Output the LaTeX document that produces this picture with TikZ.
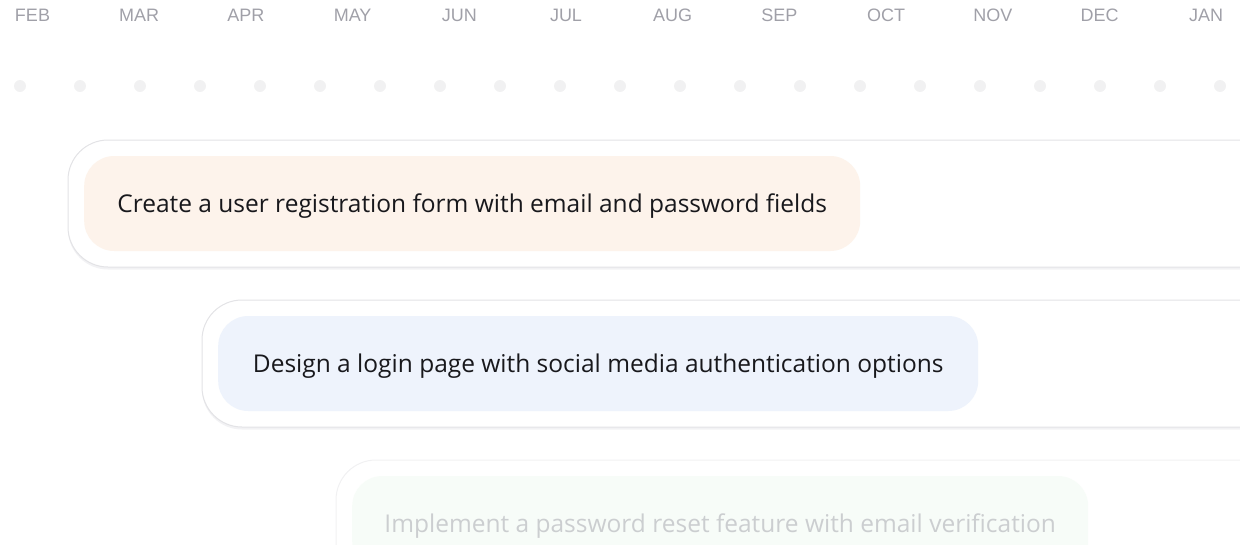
\documentclass[tikz,border=0pt]{standalone}
\usepackage{fontspec}
\setmainfont{Open Sans}
\newfontfamily\monthfont{Liberation Sans}
\definecolor{monthgray}{HTML}{A0A0A8}
\definecolor{dotgray}{HTML}{F1F1F2}
\definecolor{cardline}{HTML}{E3E3E6}
\definecolor{cardshade}{HTML}{F2F2F4}
\definecolor{inktext}{HTML}{18181C}
\definecolor{peach}{HTML}{FDF3EB}
\definecolor{skyblue}{HTML}{EEF3FC}
\definecolor{mint}{HTML}{F0FAF2}
\begin{document}
\begin{tikzpicture}[x=1pt, y=-1pt,
    month/.style={font=\monthfont\fontsize{18}{20}\selectfont, text=monthgray, inner sep=0pt},
    dot/.style={circle, fill=dotgray, inner sep=0pt, minimum size=12pt},
    card/.style={draw=cardline, line width=1pt, fill=white, rounded corners=40pt},
    pill/.style={rounded corners=30pt, minimum height=95pt, inner sep=0pt, text depth=0pt,
        font=\fontsize{24.5}{28}\selectfont, text=inktext, anchor=west}]

    \useasboundingbox (0,0) rectangle (1240,544);

    % months along the top
    \foreach \m [count=\i from 0] in {FEB,MAR,APR,MAY,JUN,JUL,AUG,SEP,OCT,NOV,DEC,JAN}
        \node[month] (m\i) at (32.5+106.7*\i,15) {\m};

    \foreach \i in {0,...,20}
        \node[dot] (d\i) at (20+60*\i,86) {};

    % first task
    \fill[cardshade, rounded corners=40pt] (68,142) rectangle (1300,269.5);
    \draw[card] (68,140) rectangle (1300,267);
    \node[pill, fill=peach, minimum width=776pt] (t1) at (84,203.5)
        {Create a user registration form with email and password fields};

    % second task
    \fill[cardshade, rounded corners=40pt] (202,302) rectangle (1300,429.5);
    \draw[card] (202,300) rectangle (1300,427);
    \node[pill, fill=skyblue, minimum width=760pt] (t2) at (218,363.5)
        {Design a login page with social media authentication options};

    % third task, faded out
    \begin{scope}[opacity=0.5]
        \draw[card] (336,460) rectangle (1300,587);
        \node[pill, fill=mint, minimum width=736pt, text=monthgray] (t3) at (352,523.5)
            {Implement a password reset feature with email verification};
    \end{scope}
\end{tikzpicture}
\end{document}
